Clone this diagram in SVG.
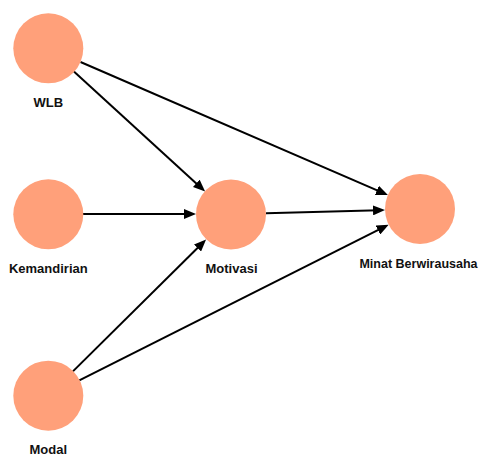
<svg xmlns="http://www.w3.org/2000/svg" width="482" height="454" viewBox="0 0 482 454">
<style>
.n{fill:#ffa07a;stroke:none}
.t{font-family:"Liberation Sans",Arial,sans-serif;font-weight:bold;font-size:13px;fill:#111;text-anchor:middle}
.e{stroke:#000;stroke-width:2;fill:none;marker-end:url(#ah)}
</style>
<defs>
<marker id="ah" markerUnits="userSpaceOnUse" markerWidth="12" markerHeight="10" refX="6" refY="5" orient="auto">
<path d="M0,0 L12,5 L0,10 z" fill="#000"/>
</marker>
</defs>
<rect width="482" height="454" fill="#fff"/>
<g id="edges">
<line class="e" x1="80.5" y1="62" x2="382.4" y2="192.7"/>
<line class="e" x1="73.9" y1="71.6" x2="200.7" y2="187.4"/>
<line class="e" x1="83" y1="214" x2="190" y2="214"/>
<line class="e" x1="266" y1="213.3" x2="379" y2="210.2"/>
<line class="e" x1="72.9" y1="371.4" x2="201.8" y2="243.8"/>
<line class="e" x1="79.3" y1="380.3" x2="383.3" y2="227.4"/>
</g>
<g id="WLB"><circle class="n" cx="48.3" cy="48.3" r="35"/><text class="t" x="48.3" y="106.7">WLB</text></g>
<g id="Kemandirian"><circle class="n" cx="48.3" cy="214.3" r="35"/><text class="t" x="48.3" y="272.7">Kemandirian</text></g>
<g id="Modal"><circle class="n" cx="48.3" cy="395.7" r="35"/><text class="t" x="48.3" y="454">Modal</text></g>
<g id="Motivasi"><circle class="n" cx="231" cy="214.5" r="35"/><text class="t" x="231.5" y="272.7">Motivasi</text></g>
<g id="Minat"><circle class="n" cx="420" cy="209" r="35"/><text class="t" x="418.5" y="268.3" style="font-size:12.5px">Minat Berwirausaha</text></g>
</svg>
